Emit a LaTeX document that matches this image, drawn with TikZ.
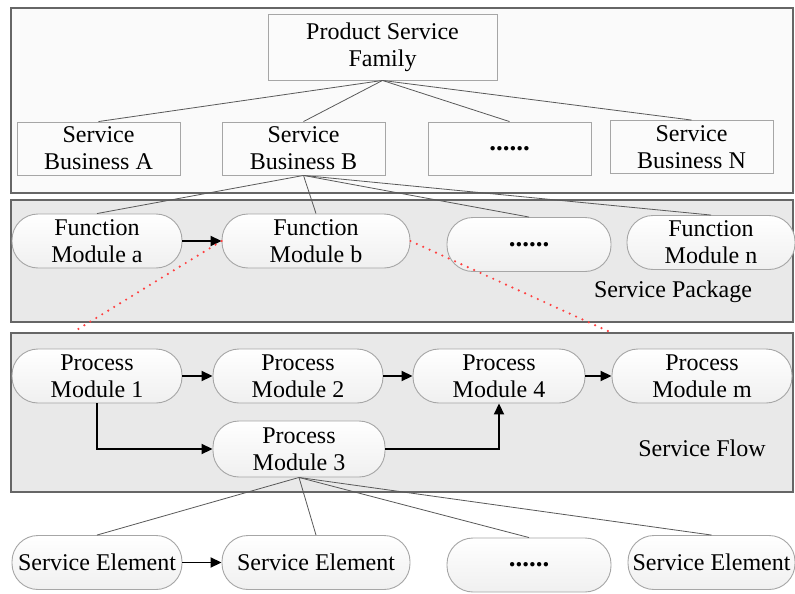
\documentclass[tikz,border=0pt]{standalone}
\usepackage{fontspec}
\setmainfont{Liberation Serif}
\usetikzlibrary{arrows.meta}
\begin{document}
\begin{tikzpicture}[x=1pt,y=-1pt,
  panel/.style={draw=gray!80!black, line width=1.2pt},
  sqbox/.style={draw=gray!70, line width=0.9pt, fill=gray!3, align=center, inner sep=0pt,
     font=\fontsize{24}{27}\selectfont},
  pill/.style={draw=gray!70, line width=0.9pt, top color=white, bottom color=gray!12,
     rounded corners=26pt, align=center, inner sep=0pt, minimum height=54pt,
     font=\fontsize{24}{27}\selectfont},
  link/.style={draw=gray!70!black, line width=0.8pt},
  flow/.style={draw=black, line width=1.8pt, -{Triangle[length=11pt,width=10pt]}},
  zoomline/.style={draw=red!75, line width=2.4pt, line cap=round, dash pattern=on 0pt off 7pt},
  lbl/.style={font=\fontsize{24}{27}\selectfont}
]
\useasboundingbox (0,0) rectangle (795,594);
\fill[white] (0,0) rectangle (795,594);
% panels
\draw[panel, fill=gray!4] (11,8) rectangle (793,193);
\draw[panel, fill=gray!17] (11,200) rectangle (793,322);
\draw[panel, fill=gray!17] (11,333) rectangle (793,492);

% level 1
\node[sqbox, minimum width=229pt, minimum height=66pt] (psf) at (382.5,47) {Product Service\\Family};
\node[sqbox, minimum width=163pt, minimum height=53pt] (sba) at (98.5,148.5) {Service\\Business A};
\node[sqbox, minimum width=163pt, minimum height=53pt] (sbb) at (303.5,148.5) {Service\\Business B};
\node[sqbox, minimum width=163pt, minimum height=53pt] (sbd) at (509.5,148.5) {\textbf{\fontsize{27}{27}\selectfont ......}};
\node[sqbox, minimum width=163pt, minimum height=53pt] (sbn) at (691.5,147) {Service\\Business N};

% function modules
\node[pill, minimum width=170pt] (fma) at (97,241) {Function\\Module a};
\node[pill, minimum width=188pt] (fmb) at (316,241) {Function\\Module b};
\node[pill, minimum width=164pt] (fmd) at (529,244.5) {\textbf{\fontsize{27}{27}\selectfont ......}};
\node[pill, minimum width=168pt] (fmn) at (711,242.5) {Function\\Module n};
\node[lbl] (spk) at (673,292) {Service Package};

% process modules
\node[pill, minimum width=170pt] (pm1) at (97,376) {Process\\Module 1};
\node[pill, minimum width=170pt] (pm2) at (298,376) {Process\\Module 2};
\node[pill, minimum width=172pt] (pm4) at (499,376) {Process\\Module 4};
\node[pill, minimum width=180pt] (pmm) at (702,376) {Process\\Module m};
\node[pill, minimum width=172pt, minimum height=56pt] (pm3) at (299,449) {Process\\Module 3};
\node[lbl] (sfl) at (702,448) {Service Flow};

% service elements
\node[pill, minimum width=170pt] (se1) at (97,562.5) {Service Element};
\node[pill, minimum width=188pt] (se2) at (316,562.5) {Service Element};
\node[pill, minimum width=164pt] (sed) at (529,565) {\textbf{\fontsize{27}{27}\selectfont ......}};
\node[pill, minimum width=167pt] (sen) at (711.5,562.5) {Service Element};

% links
\foreach \t in {sba,sbb,sbd,sbn} \draw[link] (psf.south) -- (\t.north);
\foreach \t in {fma,fmb,fmd,fmn} \draw[link] (sbb.south) -- (\t.north);
\foreach \t in {se1,se2,sed,sen} \draw[link] (pm3.south) -- (\t.north);

% flows
\draw[flow] (fma.east) -- (fmb.west);
\draw[flow] (pm1.east) -- (pm2.west);
\draw[flow] (pm2.east) -- (pm4.west);
\draw[flow] (pm4.east) -- (pmm.west);
\draw[flow] (pm1.south) |- (pm3.west);
\draw[flow] (pm3.east) -| (pm4.south);
\draw[flow] (se1.east) -- (se2.west);

% zoom lines
\coordinate (z1) at (75,331);
\coordinate (z2) at (610,332);
\draw[zoomline] (fmb.west) -- (z1);
\draw[zoomline] (fmb.east) -- (z2);
\end{tikzpicture}
\end{document}
